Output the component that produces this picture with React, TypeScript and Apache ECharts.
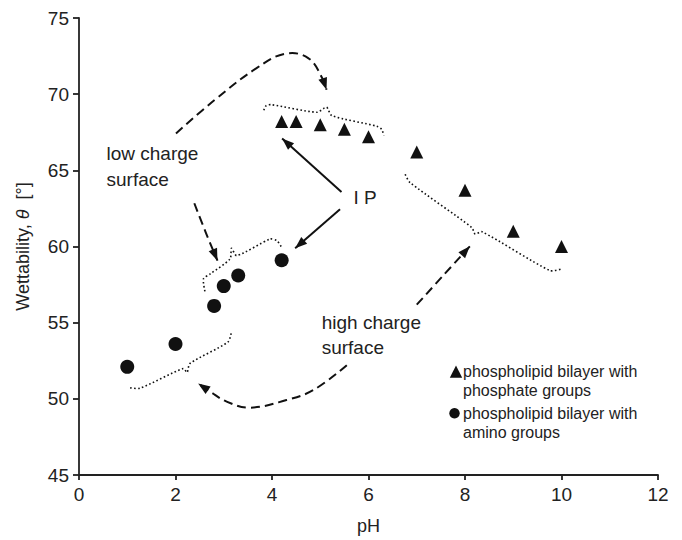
import React, { useEffect, useRef } from 'react';
import * as echarts from 'echarts';

const FONT = "'Liberation Sans', Arial, sans-serif";

// scatter data
const phosphatePH = [4.2, 4.5, 5, 5.5, 6, 7, 8, 9, 10];
const phosphateTheta = [68.2, 68.2, 68.0, 67.7, 67.2, 66.2, 63.7, 61.0, 60.0];
const aminoPH = [1, 2, 2.8, 3, 3.3, 4.2];
const aminoTheta = [52.1, 53.6, 56.1, 57.4, 58.1, 59.1];

// axis
const xMin = 0, xMax = 12, xStep = 2;
const yMin = 45, yMax = 75, yStep = 5;

// annotation paths (data coordinates)
const dashedArrows = [
  [[2.01, 67.42], [2.82, 69.64], [3.68, 71.71], [4.27, 72.65], [4.75, 72.37], [5.06, 70.95], [5.13, 70.29]],
  [[2.39, 62.84], [2.63, 60.9], [2.87, 59.07]],
  [[7.0, 56.18], [7.55, 58.1], [8.1, 60.01]],
  [[5.55, 52.21], [4.86, 50.58], [4.3, 49.92], [3.54, 49.42], [3.06, 49.82], [2.72, 50.47], [2.47, 51.01]],
];
const solidArrows = [
  [[5.44, 63.58], [4.21, 67.09]],
  [[5.41, 62.45], [4.48, 59.88]],
];
const dottedBraces = [
  [[3.83, 68.94], [3.88, 69.25], [3.98, 69.31], [4.93, 68.81], [5.13, 69.14], [5.24, 68.59], [6.17, 67.9], [6.27, 67.7], [6.32, 67.29]],
  [[6.76, 64.74], [6.86, 64.2], [8.14, 61.25], [8.21, 60.82], [8.35, 60.97], [9.76, 58.42], [10.0, 58.53]],
  [[2.61, 57.05], [2.58, 57.88], [2.72, 58.2], [3.13, 59.18], [3.16, 59.88], [3.27, 59.4], [3.96, 60.49], [4.1, 60.38], [4.2, 59.95]],
  [[1.06, 50.73], [1.26, 50.69], [2.16, 51.99], [2.24, 51.73], [2.3, 52.32], [3.09, 53.74], [3.16, 54.43]],
];
const notes = [
  { text: 'low charge\nsurface', at: [0.57, 65.26], size: 19, lh: 26 },
  { text: 'high charge\nsurface', at: [5.03, 54.17], size: 19, lh: 25 },
  { text: 'I P', at: [5.93, 63.22], size: 19, lh: 22, center: true },
];

// legend
const legendNames = ['phospholipid bilayer with\nphosphate groups', 'phospholipid bilayer with\namino groups'];

export default function App() {
  const ref = useRef<HTMLDivElement>(null);
  useEffect(() => {
    document.body.style.margin = '0';
    if (!ref.current) return;
    const chart = echarts.init(ref.current, null, { renderer: 'svg' });

    const head = (tip: number[], prev: number[], len: number, w: number) => {
      const dx = tip[0] - prev[0], dy = tip[1] - prev[1];
      const l = Math.hypot(dx, dy) || 1;
      const ux = dx / l, uy = dy / l;
      const bx = tip[0] - ux * len, by = tip[1] - uy * len;
      return {
        type: 'polygon',
        shape: { points: [tip, [bx - uy * w / 2, by + ux * w / 2], [bx + uy * w / 2, by - ux * w / 2]] },
        style: { fill: '#111' },
      };
    };

    const option: any = {
      animation: false,
      backgroundColor: '#fff',
      grid: { left: 79, right: 24, top: 18, bottom: 63 },
      xAxis: {
        type: 'value', min: xMin, max: xMax, interval: xStep,
        name: 'pH', nameLocation: 'middle', nameGap: 42,
        nameTextStyle: { fontFamily: FONT, fontSize: 18, color: '#222' },
        axisLine: { show: true, lineStyle: { color: '#222', width: 1.8 } },
        axisTick: { show: true, inside: false, length: 5, lineStyle: { color: '#222', width: 1.8 } },
        axisLabel: { fontFamily: FONT, fontSize: 19, color: '#222', margin: 10 },
        splitLine: { show: false },
      },
      yAxis: {
        type: 'value', min: yMin, max: yMax, interval: yStep,
        name: 'Wettability, {i|θ}  [°]', nameLocation: 'middle', nameGap: 47,
        nameTextStyle: { fontFamily: FONT, fontSize: 18, color: '#222', rich: { i: { fontFamily: FONT, fontSize: 18, fontStyle: 'italic', color: '#222' } } },
        axisLine: { show: true, lineStyle: { color: '#222', width: 1.8 } },
        axisTick: { show: true, inside: false, length: 6, lineStyle: { color: '#222', width: 1.8 } },
        axisLabel: { fontFamily: FONT, fontSize: 19, color: '#222', margin: 10 },
        splitLine: { show: false },
      },
      series: [
        {
          type: 'custom',
          coordinateSystem: 'cartesian2d',
          silent: true,
          z: 1,
          data: [[0, 60]],
          encode: { x: 0, y: 1 },
          renderItem: (params: any, api: any) => {
            const children: any[] = [];
            dottedBraces.forEach((path) => {
              const pts = path.map((p) => api.coord(p));
              children.push({
                type: 'polyline', shape: { points: pts, smooth: 0.25 },
                style: { stroke: '#111', lineWidth: 1.6, lineDash: [1.6, 2.4], fill: null },
              });
            });
            dashedArrows.forEach((path) => {
              const pts = path.map((p) => api.coord(p));
              children.push({
                type: 'polyline', shape: { points: pts, smooth: 0.4 },
                style: { stroke: '#111', lineWidth: 2, lineDash: [9, 5], fill: null },
              });
              children.push(head(pts[pts.length - 1], pts[pts.length - 2], 12, 9));
            });
            solidArrows.forEach((path) => {
              const pts = path.map((p) => api.coord(p));
              children.push({
                type: 'polyline', shape: { points: pts },
                style: { stroke: '#111', lineWidth: 2, fill: null },
              });
              children.push(head(pts[pts.length - 1], pts[pts.length - 2], 12, 9));
            });
            notes.forEach((n) => {
              const p = api.coord(n.at);
              children.push({
                type: 'text', x: p[0], y: p[1],
                style: {
                  text: n.text, fontFamily: FONT, fontSize: n.size, fill: '#222',
                  align: n.center ? 'center' : 'left', verticalAlign: 'middle', lineHeight: n.lh,
                },
              });
            });
            return { type: 'group', children };
          },
        },
        {
          type: 'scatter', name: 'phosphate', symbol: 'triangle', symbolSize: 13, z: 3,
          itemStyle: { color: '#111', opacity: 1 },
          data: phosphatePH.map((x, i) => [x, phosphateTheta[i]]),
        },
        {
          type: 'scatter', name: 'amino', symbol: 'circle', symbolSize: 14, z: 3,
          itemStyle: { color: '#111', opacity: 1 },
          data: aminoPH.map((x, i) => [x, aminoTheta[i]]),
        },
      ],
      graphic: [
        { type: 'polygon', shape: { points: [[456, 365.5], [449.8, 377.8], [462.2, 377.8]] }, style: { fill: '#111' } },
        { type: 'text', x: 463, y: 362, style: { text: legendNames[0], fontFamily: FONT, fontSize: 16, fill: '#222', lineHeight: 19, verticalAlign: 'top', align: 'left' } },
        { type: 'circle', shape: { cx: 454.5, cy: 413.3, r: 5.2 }, style: { fill: '#111' } },
        { type: 'text', x: 463, y: 403.8, style: { text: legendNames[1], fontFamily: FONT, fontSize: 16, fill: '#222', lineHeight: 19, verticalAlign: 'top', align: 'left' } },
      ],
    };
    chart.setOption(option);
    return () => chart.dispose();
  }, []);
  return <div ref={ref} style={{ width: 682, height: 540 }} />;
}
